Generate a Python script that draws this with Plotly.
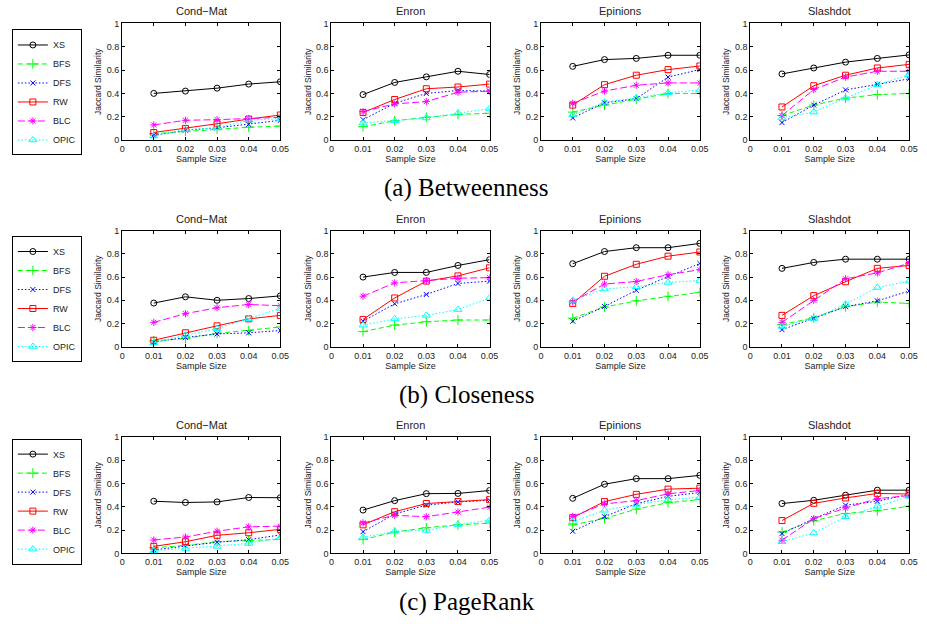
import plotly.graph_objects as go

sample_sizes = [0.01, 0.02, 0.03, 0.04, 0.05]
x_tick_vals = [0, 0.01, 0.02, 0.03, 0.04, 0.05]
x_tick_text = ["0", "0.01", "0.02", "0.03", "0.04", "0.05"]
y_tick_vals = [0, 0.2, 0.4, 0.6, 0.8, 1]
y_tick_text = ["0", "0.2", "0.4", "0.6", "0.8", "1"]
datasets = ["Cond\u2212Mat", "Enron", "Epinions", "Slashdot"]
methods = ["XS", "BFS", "DFS", "RW", "BLC", "OPIC"]
captions = ["(a) Betweenness", "(b) Closeness", "(c) PageRank"]

betweenness_condmat = {"XS": [0.40, 0.42, 0.445, 0.48, 0.50], "BFS": [0.055, 0.075, 0.095, 0.11, 0.12],
                       "DFS": [0.04, 0.085, 0.105, 0.135, 0.17], "RW": [0.065, 0.10, 0.14, 0.18, 0.215],
                       "BLC": [0.13, 0.17, 0.175, 0.185, 0.195], "OPIC": [0.035, 0.09, 0.105, 0.17, 0.185]}
betweenness_enron = {"XS": [0.39, 0.494, 0.542, 0.59, 0.562], "BFS": [0.115, 0.165, 0.195, 0.22, 0.23],
                     "DFS": [0.175, 0.315, 0.40, 0.425, 0.42], "RW": [0.236, 0.348, 0.44, 0.455, 0.48],
                     "BLC": [0.245, 0.31, 0.33, 0.41, 0.42], "OPIC": [0.146, 0.165, 0.19, 0.23, 0.27]}
betweenness_epinions = {"XS": [0.632, 0.69, 0.70, 0.727, 0.727], "BFS": [0.24, 0.30, 0.35, 0.40, 0.40],
                        "DFS": [0.19, 0.32, 0.355, 0.54, 0.605], "RW": [0.30, 0.475, 0.556, 0.604, 0.635],
                        "BLC": [0.315, 0.42, 0.47, 0.49, 0.49], "OPIC": [0.215, 0.325, 0.36, 0.405, 0.43]}
betweenness_slashdot = {"XS": [0.567, 0.618, 0.668, 0.70, 0.73], "BFS": [0.21, 0.30, 0.36, 0.39, 0.40],
                        "DFS": [0.15, 0.30, 0.43, 0.478, 0.525], "RW": [0.284, 0.466, 0.556, 0.618, 0.649],
                        "BLC": [0.21, 0.433, 0.54, 0.59, 0.59], "OPIC": [0.19, 0.24, 0.36, 0.475, 0.56]}

closeness_condmat = {"XS": [0.376, 0.43, 0.40, 0.415, 0.438], "BFS": [0.05, 0.07, 0.115, 0.14, 0.17],
                     "DFS": [0.04, 0.08, 0.11, 0.12, 0.14], "RW": [0.056, 0.12, 0.18, 0.24, 0.27],
                     "BLC": [0.21, 0.285, 0.336, 0.364, 0.353], "OPIC": [0.034, 0.10, 0.155, 0.24, 0.33]}
closeness_enron = {"XS": [0.60, 0.64, 0.64, 0.70, 0.75], "BFS": [0.13, 0.186, 0.215, 0.23, 0.23],
                   "DFS": [0.22, 0.37, 0.45, 0.545, 0.565], "RW": [0.235, 0.42, 0.565, 0.61, 0.68],
                   "BLC": [0.435, 0.55, 0.57, 0.59, 0.595], "OPIC": [0.186, 0.24, 0.27, 0.32, 0.42]}
closeness_epinions = {"XS": [0.715, 0.82, 0.853, 0.853, 0.89], "BFS": [0.246, 0.342, 0.395, 0.435, 0.469],
                      "DFS": [0.22, 0.347, 0.486, 0.605, 0.717], "RW": [0.373, 0.607, 0.71, 0.78, 0.816],
                      "BLC": [0.387, 0.54, 0.562, 0.62, 0.664], "OPIC": [0.40, 0.497, 0.517, 0.554, 0.57]}
closeness_slashdot = {"XS": [0.675, 0.726, 0.754, 0.754, 0.754], "BFS": [0.19, 0.25, 0.345, 0.385, 0.373],
                      "DFS": [0.147, 0.245, 0.345, 0.395, 0.48], "RW": [0.27, 0.44, 0.56, 0.675, 0.70],
                      "BLC": [0.21, 0.40, 0.585, 0.636, 0.72], "OPIC": [0.175, 0.243, 0.367, 0.51, 0.565]}

pagerank_condmat = {"XS": [0.448, 0.437, 0.442, 0.48, 0.478], "BFS": [0.048, 0.068, 0.10, 0.107, 0.12],
                    "DFS": [0.03, 0.065, 0.095, 0.118, 0.158], "RW": [0.06, 0.10, 0.155, 0.177, 0.206],
                    "BLC": [0.115, 0.14, 0.19, 0.228, 0.234], "OPIC": [0.023, 0.042, 0.06, 0.085, 0.135]}
pagerank_enron = {"XS": [0.372, 0.453, 0.513, 0.515, 0.54], "BFS": [0.118, 0.183, 0.22, 0.245, 0.26],
                  "DFS": [0.186, 0.338, 0.414, 0.442, 0.456], "RW": [0.245, 0.358, 0.428, 0.445, 0.462],
                  "BLC": [0.262, 0.327, 0.315, 0.355, 0.397], "OPIC": [0.138, 0.19, 0.197, 0.248, 0.285]}
pagerank_epinions = {"XS": [0.473, 0.594, 0.642, 0.642, 0.67], "BFS": [0.245, 0.30, 0.38, 0.436, 0.462],
                     "DFS": [0.19, 0.315, 0.427, 0.49, 0.523], "RW": [0.307, 0.445, 0.507, 0.552, 0.56],
                     "BLC": [0.318, 0.425, 0.453, 0.512, 0.54], "OPIC": [0.272, 0.37, 0.42, 0.46, 0.483]}
pagerank_slashdot = {"XS": [0.428, 0.456, 0.50, 0.543, 0.543], "BFS": [0.183, 0.28, 0.343, 0.366, 0.405],
                     "DFS": [0.17, 0.298, 0.414, 0.448, 0.507], "RW": [0.282, 0.43, 0.476, 0.515, 0.51],
                     "BLC": [0.113, 0.298, 0.39, 0.47, 0.496], "OPIC": [0.10, 0.175, 0.315, 0.405, 0.49]}

rows_data = [
    [betweenness_condmat, betweenness_enron, betweenness_epinions, betweenness_slashdot],
    [closeness_condmat, closeness_enron, closeness_epinions, closeness_slashdot],
    [pagerank_condmat, pagerank_enron, pagerank_epinions, pagerank_slashdot],
]

styles = {
    "XS": dict(color="#000000", dash="solid", symbol="circle-open", size=6),
    "BFS": dict(color="#00ff00", dash="5px,3px", symbol="cross-thin-open", size=7),
    "DFS": dict(color="#0000ff", dash="1.5px,2px", symbol="x-thin-open", size=5),
    "RW": dict(color="#ff0000", dash="solid", symbol="square-open", size=6),
    "BLC": dict(color="#ff00ff", dash="7px,3px", symbol="asterisk-open", size=6),
    "OPIC": dict(color="#00ffff", dash="1.5px,2px", symbol="triangle-up-open", size=7),
}

W, H = 927, 624
col_px = [(120.7, 281.0), (332.7, 493.0), (545.0, 706.0), (757.0, 918.0)]
row_px = [(18.7, 137.3), (229.3, 347.3), (439.0, 557.3)]
legend_centers = [88.9, 298.8, 504.7]
caption_y = [186, 396, 607]

FONT = "Liberation Sans, Arial, Helvetica, sans-serif"
fig = go.Figure()
legend_names = ["legend", "legend2", "legend3"]

for r in range(3):
    for c in range(4):
        n = r * 4 + c + 1
        xa = "x" if n == 1 else f"x{n}"
        ya = "y" if n == 1 else f"y{n}"
        data = rows_data[r][c]
        for m in methods:
            st = styles[m]
            fig.add_trace(go.Scatter(
                x=sample_sizes, y=data[m], name=m, mode="lines+markers",
                xaxis=xa, yaxis=ya,
                line=dict(color=st["color"], width=1, dash=st["dash"]),
                marker=dict(symbol=st["symbol"], size=st["size"], color=st["color"],
                            line=dict(color=st["color"], width=1)),
                showlegend=(c == 0), legend=legend_names[r],
            ))
        x0, x1 = col_px[c]
        y0, y1 = row_px[r]
        xkey = "xaxis" if n == 1 else f"xaxis{n}"
        ykey = "yaxis" if n == 1 else f"yaxis{n}"
        axis_common = dict(showline=True, mirror="ticks", linecolor="black", linewidth=1,
                           ticks="inside", ticklen=3, tickwidth=1, tickcolor="black",
                           showgrid=False, zeroline=False,
                           tickfont=dict(family=FONT, size=9, color="#222"))
        fig.update_layout(**{
            xkey: dict(domain=[x0 / W, x1 / W], anchor=ya, range=[0, 0.05],
                       tickvals=x_tick_vals, ticktext=x_tick_text,
                       title=dict(text="Sample Size", font=dict(family=FONT, size=9, color="#222"), standoff=2),
                       **axis_common),
            ykey: dict(domain=[1 - y1 / H, 1 - y0 / H], anchor=xa, range=[0, 1],
                       tickvals=y_tick_vals, ticktext=y_tick_text,
                       title=dict(text="Jaccard Similarity", font=dict(family=FONT, size=8.5, color="#222"), standoff=3),
                       **axis_common),
        })
        fig.add_annotation(text=datasets[c], xref=f"{xa} domain", yref=f"{ya} domain",
                           x=0.5, y=1, yanchor="middle", yshift=12, showarrow=False,
                           font=dict(family=FONT, size=11, color="#222"))

for r in range(3):
    fig.add_annotation(text=captions[r], xref="paper", yref="paper", x=470 / W, y=1 - caption_y[r] / H,
                       xanchor="center", yanchor="middle", showarrow=False,
                       font=dict(family="Liberation Serif, DejaVu Serif, serif", size=25, color="#000"))
    fig.update_layout(**{legend_names[r]: dict(
        x=9 / W, xanchor="left", y=1 - legend_centers[r] / H, yanchor="middle",
        bgcolor="white", bordercolor="black", borderwidth=1,
        font=dict(family=FONT, size=9, color="#222"), itemwidth=30, tracegroupgap=0,
    )})

fig.update_layout(width=W, height=H, margin=dict(l=0, r=0, t=0, b=0),
                  paper_bgcolor="white", plot_bgcolor="white", showlegend=True)

fig.write_html("out.html", config={"displayModeBar": False},
               post_script="document.body.style.margin='0';document.body.style.padding='0';")
